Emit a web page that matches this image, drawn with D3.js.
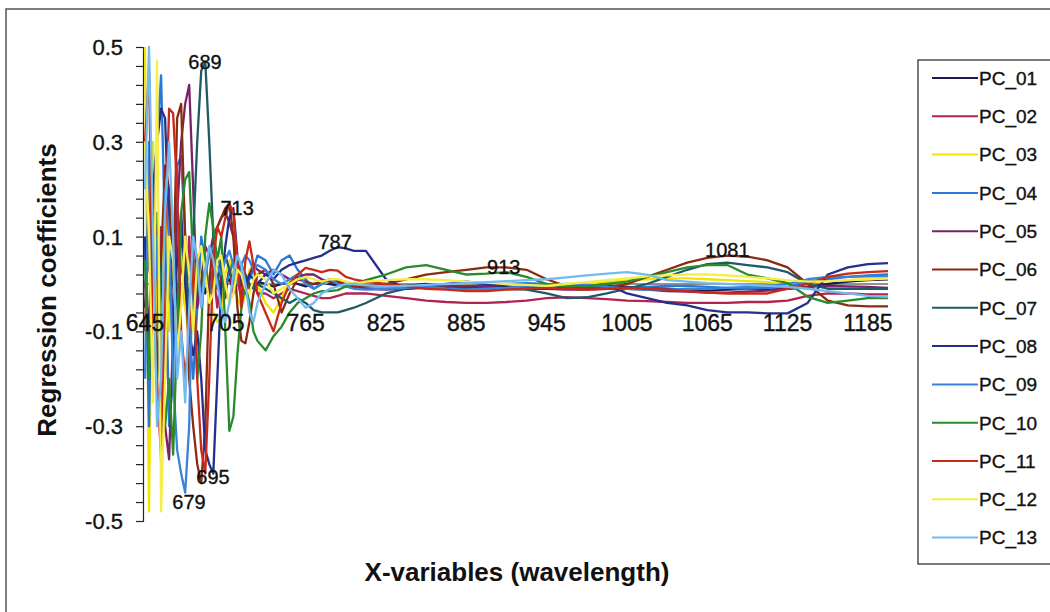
<!DOCTYPE html>
<html>
<head>
<meta charset="utf-8">
<script src="https://cdn.jsdelivr.net/npm/d3@7"></script>
<style>
  html, body { margin: 0; padding: 0; background: #fff; }
  svg { display: block; font-family: "Liberation Sans", Arial, sans-serif; }
  .lbl { stroke: #111; stroke-width: 0.35px; }
</style>
</head>
<body>
<div id="container"></div>
<script>
// wavelengths (nm), denser sampling where the curves oscillate
const wavelengths = [645,648,651,654,657,660,663,666,669,672,675,678,681,684,687,690,693,696,699,702,705,708,711,714,717,720,723,726,729,
  735,741,747,753,759,765,771,777,783,789,795,
  801,810,825,840,855,870,885,900,915,930,945,960,975,990,1005,1020,1035,1050,1065,1080,1095,1110,1125,1140,1155,1170,1185,1200];

const seriesNames = ["PC_01","PC_02","PC_03","PC_04","PC_05","PC_06","PC_07","PC_08","PC_09","PC_10","PC_11","PC_12","PC_13"];
const seriesColors = ["#1c1c52","#b02452","#f2e400","#2a78d6","#7a2268","#8a2c12","#1f5a68","#23308c","#3a82da","#2a8a2c","#c82a1a","#f6ee48","#72baf0"];

const pc01 = [-0.05,0.1,-0.08,0.06,-0.04,0.05,-0.06,0.04,-0.03,0.05,-0.02,0.03,-0.04,0.02,0.03,-0.02,0.01,0.02,-0.01,0.01,0.0,0.01,-0.01,0.0,0.01,0.0,-0.005,0.0,0.005,
  0.0,-0.005,0.0,0.005,0.0,-0.005,0.0,0.003,0.0,-0.003,0.0,
  0.0,-0.004,-0.006,-0.004,0.0,-0.005,-0.008,-0.006,-0.004,-0.002,-0.006,-0.01,-0.008,-0.005,-0.006,-0.008,-0.01,-0.012,-0.014,-0.012,-0.01,-0.012,-0.01,-0.006,0.0,0.005,0.008,0.01];
const pc02 = [0.08,-0.15,0.2,-0.1,0.12,-0.2,0.05,0.1,-0.12,0.08,-0.05,0.1,-0.08,0.06,-0.04,0.05,-0.02,0.03,-0.05,0.02,-0.03,0.04,-0.02,0.01,-0.03,0.02,-0.01,0.0,-0.02,
  -0.02,-0.03,-0.02,-0.01,-0.015,-0.02,-0.025,-0.03,-0.03,-0.025,-0.02,
  -0.02,-0.02,-0.025,-0.03,-0.035,-0.038,-0.04,-0.04,-0.038,-0.035,-0.03,-0.028,-0.03,-0.032,-0.035,-0.036,-0.038,-0.04,-0.04,-0.04,-0.038,-0.038,-0.035,-0.025,-0.02,-0.02,-0.022,-0.022];
const pc03 = [0.5,-0.48,0.3,-0.2,-0.1,0.2,-0.1,0.05,0.1,0.09,-0.05,-0.11,-0.08,-0.02,0.04,0.06,-0.02,-0.06,-0.08,-0.07,0.02,0.05,0.01,-0.03,-0.05,-0.02,0.03,0.04,0.0,
  -0.04,-0.06,-0.03,0.01,0.02,0.01,-0.01,0.0,0.005,0.01,0.005,
  0.0,-0.005,-0.008,-0.006,-0.004,-0.002,0.0,0.0,-0.002,-0.004,-0.006,-0.004,0.0,0.004,0.008,0.01,0.012,0.012,0.01,0.008,0.006,0.004,0.0,0.004,0.006,0.008,0.01,0.012];
const pc04 = [0.1,-0.3,0.15,0.3,0.44,0.1,-0.3,-0.2,0.25,0.27,0.1,-0.1,-0.2,-0.05,0.1,0.05,-0.02,0.04,0.06,0.03,0.0,0.02,0.05,0.04,0.02,0.0,0.01,0.03,0.06,
  0.05,0.02,0.05,0.06,0.03,0.01,-0.01,0.0,0.01,0.005,0.0,
  -0.005,-0.01,-0.01,-0.008,-0.005,-0.004,-0.004,-0.002,0.0,0.002,0.0,-0.004,-0.008,-0.01,-0.008,-0.006,-0.004,-0.004,-0.006,-0.008,-0.01,-0.008,-0.006,0.005,0.01,0.015,0.018,0.02];
const pc05 = [0.0,-0.1,0.2,0.1,-0.15,-0.3,-0.37,-0.1,0.15,0.3,0.38,0.42,0.2,-0.05,0.0,0.08,0.06,0.1,0.12,0.14,0.15,0.13,0.1,0.05,0.0,-0.02,0.02,0.04,0.03,
  0.02,0.03,0.02,0.01,0.015,0.02,0.02,0.01,0.005,0.0,-0.005,
  -0.008,-0.01,-0.012,-0.01,-0.008,-0.005,-0.004,-0.005,-0.006,-0.008,-0.01,-0.012,-0.012,-0.01,-0.01,-0.012,-0.015,-0.016,-0.018,-0.018,-0.016,-0.014,-0.01,-0.006,-0.004,-0.005,-0.006,-0.008];
const pc06 = [-0.1,0.2,0.1,-0.2,0.05,0.25,0.2,0.0,0.35,0.38,0.1,-0.2,-0.3,-0.38,-0.42,-0.3,0.0,0.1,0.12,0.14,0.16,0.17,0.1,-0.05,-0.12,-0.125,-0.08,-0.02,0.02,
  0.03,0.0,-0.06,-0.02,0.01,0.005,0.0,0.005,0.01,0.005,0.0,
  -0.005,-0.005,0.0,0.01,0.02,0.025,0.03,0.035,0.035,0.03,0.01,-0.005,-0.01,-0.008,0.0,0.015,0.03,0.045,0.055,0.06,0.058,0.05,0.035,0.0,-0.035,-0.045,-0.047,-0.047];
const pc07 = [0.0,0.05,-0.05,0.1,0.0,-0.1,0.05,0.0,-0.05,0.1,0.05,-0.05,0.1,0.3,0.45,0.47,0.3,0.1,0.0,0.05,0.06,0.03,0.0,0.02,0.04,0.02,0.0,-0.01,0.0,
  -0.01,-0.02,-0.03,-0.04,-0.03,-0.04,-0.055,-0.06,-0.06,-0.06,-0.055,
  -0.05,-0.04,-0.02,-0.01,-0.005,-0.008,-0.01,-0.01,-0.01,-0.012,-0.02,-0.03,-0.028,-0.02,-0.01,0.0,0.015,0.03,0.042,0.045,0.04,0.035,0.025,0.0,-0.01,-0.01,-0.01,-0.01];
const pc08 = [0.1,-0.2,0.2,0.3,0.37,0.35,0.1,-0.1,0.05,0.15,0.0,-0.1,-0.15,-0.1,-0.2,-0.35,-0.38,-0.4,-0.2,0.0,0.08,0.14,0.16,0.06,-0.03,0.0,0.02,0.01,0.0,
  0.02,0.01,0.03,0.04,0.045,0.05,0.055,0.06,0.07,0.078,0.075,
  0.07,0.07,0.01,-0.01,-0.005,0.0,0.005,0.0,-0.005,-0.01,-0.01,-0.005,-0.005,0.0,-0.02,-0.03,-0.04,-0.045,-0.055,-0.06,-0.06,-0.062,-0.062,-0.04,0.02,0.035,0.042,0.044];
const pc09 = [-0.2,0.3,-0.1,0.1,-0.3,0.2,0.1,-0.2,-0.35,-0.4,-0.44,-0.3,0.1,0.05,-0.05,0.02,0.06,0.08,0.04,0.02,0.05,0.07,0.04,0.0,0.04,0.06,0.05,0.03,0.04,
  0.03,0.01,0.0,0.01,0.02,0.0,-0.01,0.0,0.01,0.0,-0.005,
  -0.01,-0.012,-0.01,-0.008,-0.005,-0.01,-0.012,-0.01,-0.008,-0.005,-0.002,0.0,-0.002,-0.006,-0.01,-0.012,-0.012,-0.01,-0.01,-0.008,-0.006,-0.004,0.0,0.01,0.015,0.015,0.016,0.016];
const pc10 = [0.05,-0.2,0.1,0.15,-0.1,-0.3,-0.2,-0.36,-0.1,0.15,0.22,0.236,0.05,-0.2,-0.1,0.1,0.17,0.12,0.05,0.1,-0.1,-0.31,-0.28,-0.15,-0.05,0.0,-0.04,-0.1,-0.12,
  -0.14,-0.11,-0.09,-0.06,-0.04,-0.03,-0.02,-0.015,-0.015,-0.013,-0.005,
  0.0,0.008,0.02,0.035,0.04,0.03,0.02,0.022,0.025,0.015,0.0,-0.005,-0.005,0.0,0.005,0.015,0.025,0.035,0.04,0.04,0.02,0.012,0.002,-0.027,-0.04,-0.035,-0.03,-0.03];
const pc11 = [0.3,0.45,-0.1,-0.2,-0.37,0.1,0.37,0.36,0.2,-0.1,-0.2,-0.1,0.05,-0.2,-0.35,-0.4,-0.2,0.05,0.12,0.1,0.14,0.17,0.15,0.05,-0.05,0.05,0.09,0.04,-0.02,
  -0.06,-0.1,-0.04,0.0,0.02,0.034,0.03,0.025,0.03,0.028,0.015,
  0.01,0.005,0.0,-0.005,-0.01,-0.012,-0.015,-0.015,-0.012,-0.01,-0.008,-0.01,-0.012,-0.01,-0.008,-0.01,-0.012,-0.015,-0.018,-0.02,-0.02,-0.02,-0.01,0.0,0.015,0.022,0.025,0.027];
const pc12 = [0.3,0.1,-0.25,0.47,-0.48,-0.2,0.1,0.05,-0.15,-0.05,0.1,0.02,-0.1,0.05,0.08,0.02,-0.04,-0.02,0.05,0.06,0.0,-0.04,-0.02,0.03,0.02,-0.01,-0.02,0.01,0.02,
  0.01,-0.02,-0.01,0.0,0.01,0.015,0.01,0.005,0.01,0.01,0.005,
  0.0,0.005,0.008,0.01,0.01,0.008,0.005,0.003,0.0,-0.002,-0.004,0.0,0.004,0.008,0.012,0.016,0.018,0.02,0.02,0.018,0.015,0.012,0.008,0.005,0.006,0.008,0.01,0.012];
const pc13 = [0.2,0.5,0.1,-0.3,-0.2,0.15,0.3,0.1,-0.2,-0.1,-0.25,-0.05,0.1,0.05,-0.05,0.03,0.08,0.05,0.0,-0.05,-0.08,-0.04,0.02,0.06,0.04,0.0,-0.06,-0.08,-0.04,
  0.0,0.03,0.02,-0.01,-0.03,-0.05,-0.04,-0.02,-0.01,-0.005,0.0,
  0.0,-0.003,-0.005,-0.004,-0.002,0.0,0.002,0.004,0.006,0.008,0.01,0.014,0.018,0.022,0.025,0.02,0.008,0.005,0.002,0.0,-0.002,-0.004,-0.006,-0.01,-0.015,-0.02,-0.025,-0.027];

const seriesValues = [pc01, pc02, pc03, pc04, pc05, pc06, pc07, pc08, pc09, pc10, pc11, pc12, pc13];

// peak labels
const peakLabels = ["689", "713", "787", "913", "1081", "695", "679"];
const peakX = [689.8, 713.8, 787, 913, 1080, 695.8, 677.9];
const peakY = [0.468, 0.16, 0.089, 0.036, 0.072, -0.407, -0.46];

const xTickValues = [645, 705, 765, 825, 885, 945, 1005, 1065, 1125, 1185];
const yLabelValues = [0.5, 0.3, 0.1, -0.1, -0.3, -0.5];

seriesValues.forEach((s, i) => {
    if (s.length !== wavelengths.length) throw new Error(seriesNames[i] + " has " + s.length + " values");
});

const width = 1050, height = 612;

const svg = d3.select("#container")
    .append("svg")
    .attr("width", width)
    .attr("height", height);

// outer chart frame (right/bottom edges run off the picture)
svg.append("rect")
    .attr("x", 6).attr("y", 9)
    .attr("width", 1100).attr("height", 700)
    .attr("fill", "#fff")
    .attr("stroke", "#555")
    .attr("stroke-width", 1.5);

const x = d3.scaleLinear().domain([643.5, 1200]).range([143, 888]);
const y = d3.scaleLinear().domain([-0.5, 0.5]).range([521, 47]);

// y axis with small ticks every 0.04, labels every 0.2
const yAxis = d3.axisLeft(y)
    .tickValues(d3.range(0, 26).map(i => +(-0.5 + i * 0.04).toFixed(2)))
    .tickSize(7)
    .tickFormat("");
const yg = svg.append("g")
    .attr("transform", "translate(143,0)")
    .call(yAxis);
yg.select(".domain").attr("stroke", "#222").attr("stroke-width", 1.2);
yg.selectAll(".tick line").attr("stroke", "#222").attr("stroke-width", 1.2);

svg.append("g")
    .selectAll("text")
    .data(yLabelValues)
    .join("text")
    .attr("class", "lbl")
    .attr("x", 123)
    .attr("y", d => y(d))
    .attr("dy", "0.36em")
    .attr("text-anchor", "end")
    .attr("font-size", 22)
    .attr("fill", "#111")
    .text(d => d.toFixed(1));

// zero line (category axis)
svg.append("line")
    .attr("x1", 143).attr("x2", 888)
    .attr("y1", y(0)).attr("y2", y(0))
    .attr("stroke", "#222")
    .attr("stroke-width", 1);

// series lines
const line = d3.line()
    .x((d, i) => x(wavelengths[i]))
    .y(d => y(d));

svg.append("g")
    .selectAll("path")
    .data(seriesValues)
    .join("path")
    .attr("d", d => line(d))
    .attr("fill", "none")
    .attr("stroke", (d, i) => seriesColors[i])
    .attr("stroke-width", 2.3)
    .attr("stroke-linejoin", "round");

// x tick labels sit just under the zero line
svg.append("g")
    .selectAll("text")
    .data(xTickValues)
    .join("text")
    .attr("class", "lbl")
    .attr("x", d => x(d))
    .attr("y", 331)
    .attr("text-anchor", "middle")
    .attr("font-size", 23)
    .attr("fill", "#111")
    .text(d => d);

// peak annotations
svg.append("g")
    .selectAll("text")
    .data(peakLabels)
    .join("text")
    .attr("class", "lbl")
    .attr("x", (d, i) => x(peakX[i]))
    .attr("y", (d, i) => y(peakY[i]))
    .attr("dy", "0.36em")
    .attr("text-anchor", "middle")
    .attr("font-size", 20)
    .attr("fill", "#111")
    .text(d => d);

// axis titles
svg.append("text")
    .attr("transform", "translate(56,290) rotate(-90)")
    .attr("text-anchor", "middle")
    .attr("font-size", 26)
    .attr("font-weight", "bold")
    .attr("fill", "#111")
    .text("Regression coefficients");

svg.append("text")
    .attr("x", 517)
    .attr("y", 581)
    .attr("text-anchor", "middle")
    .attr("font-size", 26)
    .attr("font-weight", "bold")
    .attr("fill", "#111")
    .text("X-variables (wavelength)");

// legend
const legend = svg.append("g");
legend.append("rect")
    .attr("x", 918).attr("y", 60)
    .attr("width", 200).attr("height", 504)
    .attr("fill", "#fff")
    .attr("stroke", "#333")
    .attr("stroke-width", 1.3);

const items = legend.selectAll("g.item")
    .data(seriesNames)
    .join("g")
    .attr("class", "item")
    .attr("transform", (d, i) => `translate(0,${78 + i * 38.3})`);

items.append("line")
    .attr("x1", 932).attr("x2", 978)
    .attr("y1", 0).attr("y2", 0)
    .attr("stroke", (d, i) => seriesColors[i])
    .attr("stroke-width", 2);

items.append("text")
    .attr("class", "lbl")
    .attr("x", 979)
    .attr("y", 0)
    .attr("dy", "0.36em")
    .attr("font-size", 19)
    .attr("fill", "#111")
    .text(d => d);
</script>
</body>
</html>
